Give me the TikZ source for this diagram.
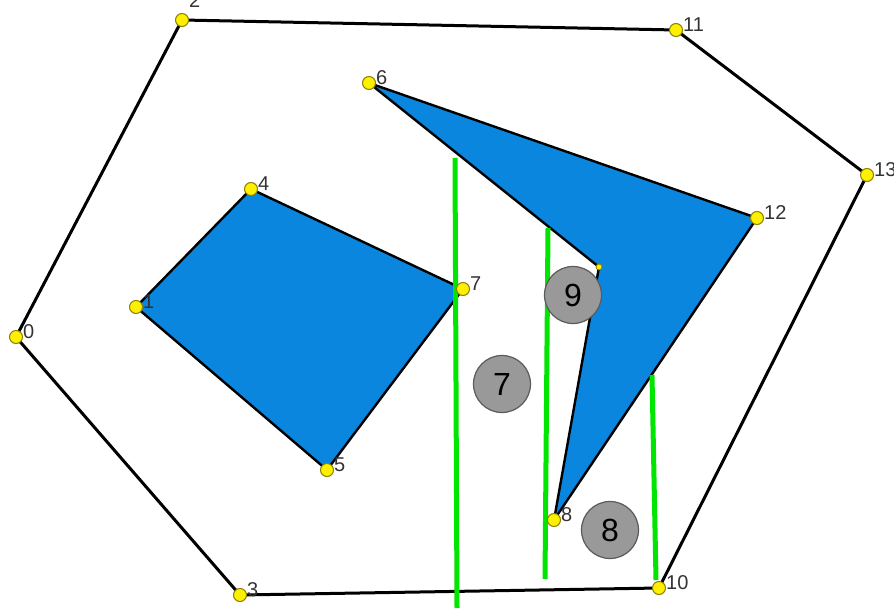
\documentclass[tikz,border=0pt]{standalone}
\usepackage{fontspec}
\setmainfont{Liberation Sans}
\definecolor{ptfill}{HTML}{FFF000}
\definecolor{ptedge}{HTML}{8C8000}
\definecolor{obsblue}{HTML}{0A86DE}
\definecolor{cutgreen}{HTML}{00E600}
\definecolor{cellgray}{HTML}{999999}
\definecolor{celledge}{HTML}{5A5A5A}
\definecolor{lbltext}{HTML}{333333}
\tikzset{
  ptbase/.style={circle, draw=ptedge, fill=ptfill, line width=1pt, inner sep=0pt, minimum size=13pt,
    label distance=-1pt},
  pt/.style={ptbase, label={[vlbl]right:#1}},
  ptsmall/.style={circle, draw=ptedge, fill=ptfill, line width=0.8pt, inner sep=0pt, minimum size=6pt},
  vlbl/.style={font=\fontsize{20}{20}\selectfont, text=lbltext, inner sep=0pt, yshift=5pt},
  hull/.style={draw=black, line width=3pt, line join=round},
  obs/.style={draw=black, fill=obsblue, line width=2.4pt, line join=round},
  cut/.style={draw=cutgreen, line width=5pt},
  cellmark/.style={circle, draw=celledge, fill=cellgray, line width=1.2pt, minimum size=57pt, inner sep=0pt,
    font=\fontsize{32}{32}\selectfont, text=black},
}
\begin{document}
\begin{tikzpicture}[x=1pt,y=-1pt]
  \clip (0,0) rectangle (894,612);
  \fill[white] (0,0) rectangle (894,612);
  % points
  \coordinate (p0) at (16,337);
  \coordinate (p1) at (136,307);
  \coordinate (p2) at (182,20);
  \coordinate (p3) at (240,595);
  \coordinate (p4) at (251,189);
  \coordinate (p5) at (327,470);
  \coordinate (p6) at (369,83);
  \coordinate (p7) at (463,289);
  \coordinate (p8) at (554,520);
  \coordinate (p9) at (599,267);
  \coordinate (p10) at (659,588);
  \coordinate (p11) at (676,30);
  \coordinate (p12) at (757,218);
  \coordinate (p13) at (867,175);
  % outer boundary
  \draw[hull] (p0) -- (p2) -- (p11) -- (p13) -- (p10) -- (p3) -- cycle;
  % obstacles
  \draw[obs] (p1) -- (p4) -- (p7) -- (p5) -- cycle;
  \draw[obs] (p6) -- (p12) -- (p8) -- (p9) -- cycle;
  % sweep lines
  \coordinate (c1a) at (455,158);
  \coordinate (c1b) at (457,608);
  \coordinate (c2a) at (548,228);
  \coordinate (c2b) at (545,579);
  \coordinate (c3a) at (652,375);
  \coordinate (c3b) at (656,580);
  \draw[cut] (c1a) -- (c1b);
  \draw[cut] (c2a) -- (c2b);
  \draw[cut] (c3a) -- (c3b);
  % vertices
  \foreach \i in {0,1,3,4,5,6,7,8,10,11,12,13}
    \node[pt=\i] (v\i) at (p\i) {};
  \node[ptbase, label={[vlbl, yshift=14pt]right:2}] (v2) at (p2) {};
  \node[ptsmall] (v9) at (p9) {};
  % cells
  \node[cellmark] (k7) at (502,384) {7};
  \node[cellmark] (k9) at (573,295) {9};
  \node[cellmark] (k8) at (610,530) {8};
\end{tikzpicture}
\end{document}
